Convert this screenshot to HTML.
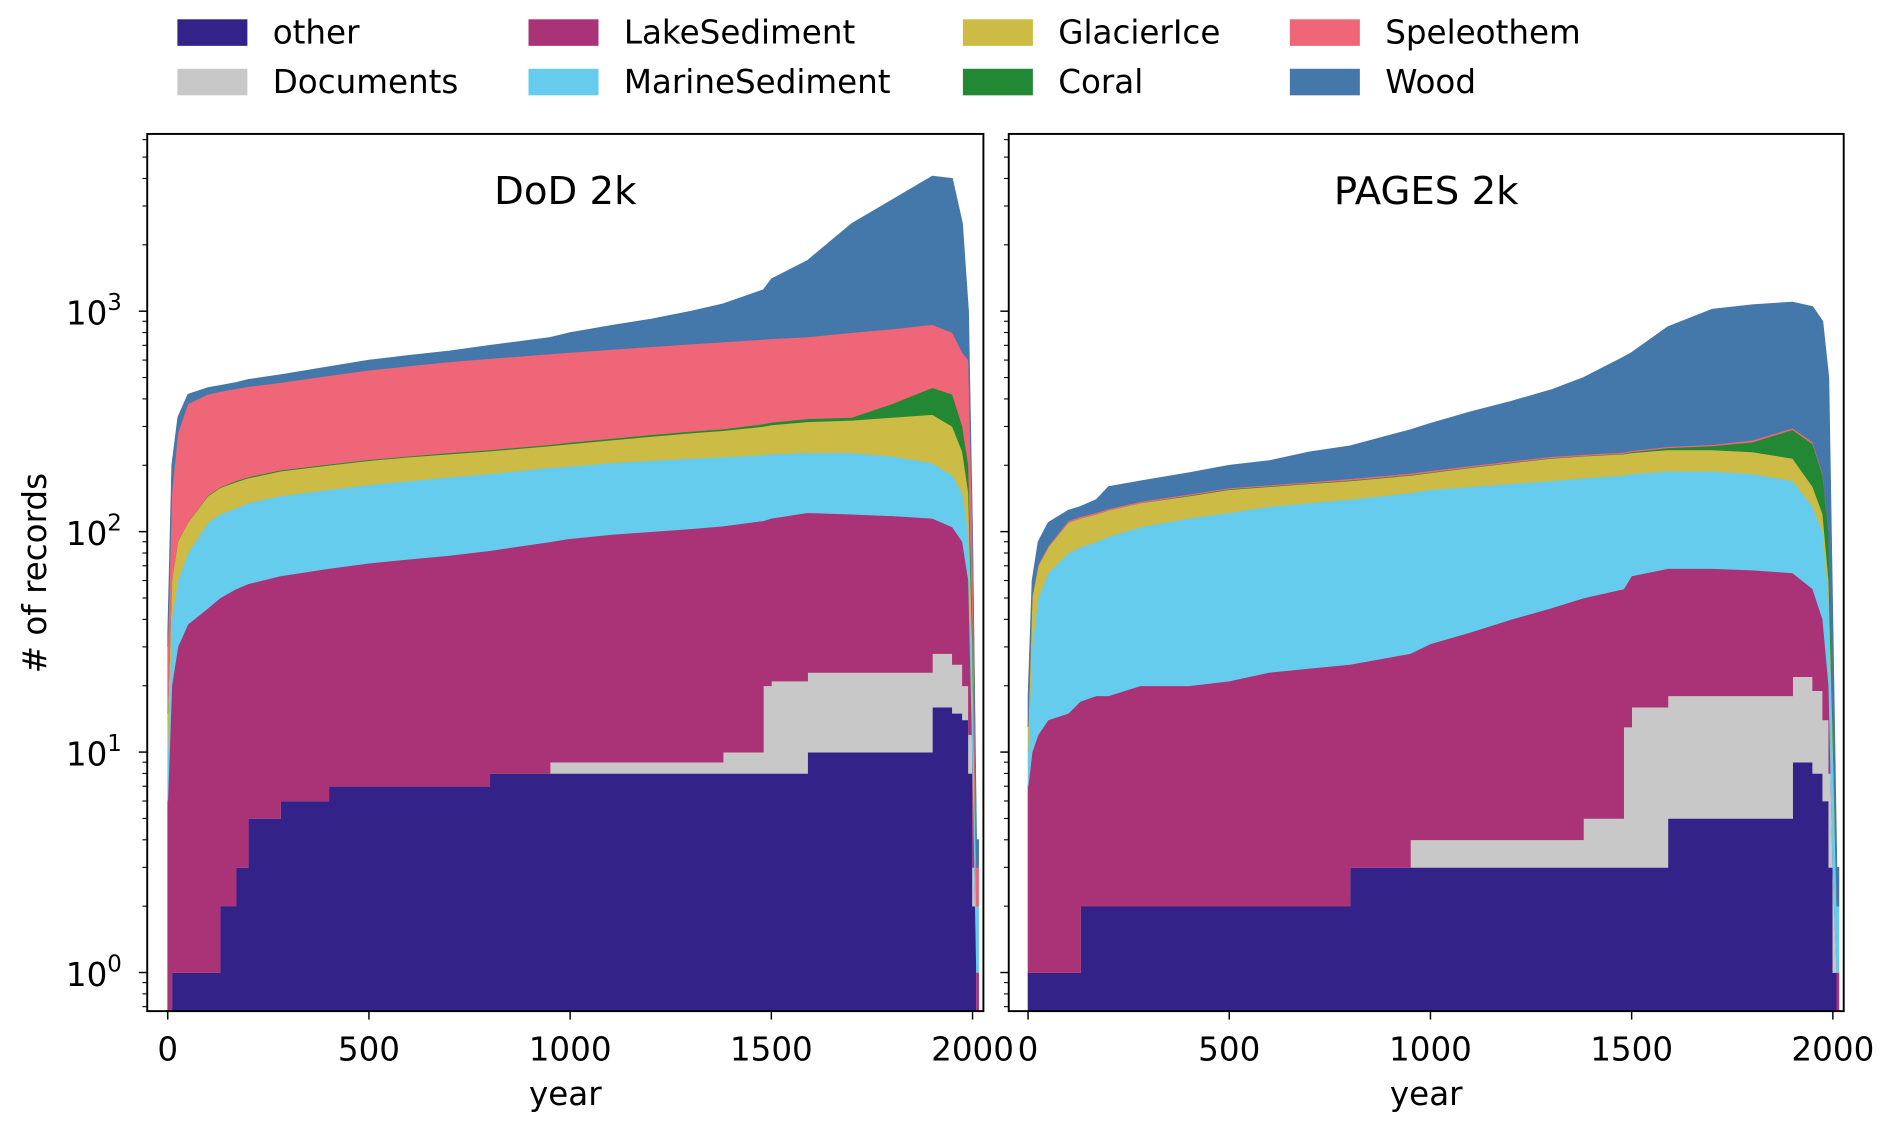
<!DOCTYPE html>
<html><head><meta charset="utf-8"><style>
html,body{margin:0;padding:0;background:#fff;width:1892px;height:1133px;overflow:hidden;}
svg{display:block;font-family:"DejaVu Sans","Liberation Sans",sans-serif;}
</style></head><body>
<svg id="chart" width="1892" height="1133" viewBox="0 0 1568 939" xmlns="http://www.w3.org/2000/svg"></svg>
<script>
const years=[0,10,25,50,100,130,170,200,280,400,500,600,700,800,950,1000,1100,1200,1300,1380,1480,1500,1590,1700,1800,1900,1950,1975,1990,2000,2010];
const seriesNames=["other","Documents","LakeSediment","MarineSediment","GlacierIce","Coral","Speleothem","Wood"];
const colors=["#332288","#c8c8c8","#aa3377","#66ccee","#ccbb44","#228833","#ee6677","#4477aa"];
const dodOther=[0,1,1,1,1,2,3,5,6,7,7,7,7,8,8,8,8,8,8,8,8,8,10,10,10,16,15,14,8,2,0];
const dodDocuments=[0,0,0,0,0,0,0,0,0,0,0,0,0,0,1,1,1,1,1,2,12,13,13,13,13,12,10,6,4,1,0];
const dodLake=[6,19,29,37,44,48,52,53,57,61,65,68,71,74,81,84,88,91,94,96,92,94,99,97,95,87,80,70,48,7,1];
const dodMarine=[4,20,30,42,65,70,73,77,82,87,91,95,99,101,105,105,108,110,112,112,111,110,106,108,102,90,75,60,40,10,1];
const dodGlacier=[5,20,30,30,35,38,40,40,43,45,47,48,48,49,50,52,55,60,65,69,77,80,87,92,110,135,120,80,50,10,0];
const dodCoral=[0,0,0,0,1,1,2,2,2,2,2,2,3,3,3,4,4,5,5,5,8,8,10,10,50,110,120,70,50,10,0];
const dodSpeleo=[15,90,190,270,274,273,275,278,285,308,328,345,362,375,392,396,406,415,425,433,437,437,440,470,450,420,380,350,400,60,1];
const dodWood=[5,50,50,40,30,28,30,35,40,50,60,65,70,90,120,150,190,230,290,355,505,650,935,1700,2370,3230,3200,1850,400,0,1];
const pgOther=[1,1,1,1,1,2,2,2,2,2,2,2,2,3,3,3,3,3,3,3,3,3,5,5,5,9,8,6,3,1,0];
const pgDocuments=[0,0,0,0,0,0,0,0,0,0,0,0,0,0,1,1,1,1,1,2,10,13,13,13,13,13,11,8,5,2,0];
const pgLake=[6,9,11,13,14,15,16,16,18,18,19,21,22,22,24,27,31,36,41,45,42,47,50,50,49,43,36,26,12,0,1];
const pgMarine=[3,20,38,51,65,68,72,77,85,95,101,107,111,115,122,124,125,125,125,125,125,120,120,120,116,105,75,60,30,7,1];
const pgGlacier=[3,20,20,20,30,30,30,30,30,30,33,30,30,30,30,30,35,40,45,45,45,45,47,47,47,45,30,20,10,2,0];
const pgCoral=[0,0,0,0,0,0,0,0,0,1,1,1,1,1,1,1,1,1,1,1,1,2,5,10,25,75,90,60,40,3,0];
const pgSpeleo=[0,1,1,1,2,2,2,2,2,2,2,2,2,3,3,3,3,3,3,3,3,3,3,3,5,5,5,3,2,0,0];
const pgWood=[5,9,19,24,13,13,18,33,33,37,42,47,62,71,106,121,151,181,221,276,391,417,607,772,810,805,795,717,398,25,1];
const xTicks=[0,500,1000,1500,2000];
const yTicks=[1,10,100,1000];

const NS="http://www.w3.org/2000/svg";
const svg=document.getElementById('chart');
function mk(tag,attrs,parent){const e=document.createElementNS(NS,tag);for(const k in attrs)e.setAttribute(k,attrs[k]);(parent||svg).appendChild(e);return e;}
const yTop=111,yBot=838;
function yScale(v){return v<=0?yBot+20:806-182.7*Math.log10(v);}

const panels=[
 {name:"dod",title:"DoD 2k",x0:122,x1:815,zero:139,data:[dodOther,dodDocuments,dodLake,dodMarine,dodGlacier,dodCoral,dodSpeleo,dodWood]},
 {name:"pages",title:"PAGES 2k",x0:836,x1:1528,zero:852,data:[pgOther,pgDocuments,pgLake,pgMarine,pgGlacier,pgCoral,pgSpeleo,pgWood]}
];
const endYear=2015;
function boundary(cum,step,xs){
  const pts=[];
  for(let i=0;i<years.length;i++){
    const xa=xs(years[i]),xb=xs(i+1<years.length?years[i+1]:endYear);
    if(step){pts.push([xa,yScale(cum[i])],[xb,yScale(cum[i])]);}
    else{pts.push([xa,yScale(cum[i])]); if(i===years.length-1)pts.push([xb,yScale(cum[i])]);}
  }
  return pts;
}
panels.forEach((p,pi)=>{
  const xs=y=>p.zero+(y/2000)*(806-139);
  const g=mk('g',{});
  
  
  const cp=mk('clipPath',{id:'clip'+pi},g);
  mk('rect',{x:p.x0,y:yTop,width:p.x1-p.x0,height:yBot-yTop},cp);
  const area=mk('g',{'clip-path':'url(#clip'+pi+')'},g);
  let cum=years.map(()=>0);
  let lowerPts=[[xs(0),yBot+20],[xs(endYear),yBot+20]];
  p.data.forEach((s,si)=>{
    cum=cum.map((c,i)=>c+s[i]);
    const topPts=boundary(cum,si<=1,xs);
    const all=topPts.concat(lowerPts.slice().reverse());
    const poly=mk('polygon',{points:all.map(q=>q[0].toFixed(2)+','+q[1].toFixed(2)).join(' '),fill:colors[si],stroke:colors[si],'stroke-width':0.6},area);
    
    
    lowerPts=topPts;
  });
  const fr=mk('rect',{x:p.x0,y:yTop,width:p.x1-p.x0,height:yBot-yTop,fill:'none',stroke:'#000','stroke-width':1.6},g);
  
  
  const t=mk('text',{x:(p.x0+p.x1)/2,y:169,'font-size':32,'text-anchor':'middle'},g);
  t.textContent=p.title;
  
  
  xTicks.forEach(v=>{
    const x=xs(v);
    mk('line',{x1:x,x2:x,y1:yBot,y2:yBot+7,stroke:'#000','stroke-width':1.2},g);
    const tl=mk('text',{x:x,y:879,'font-size':27,'text-anchor':'middle'},g);
    tl.textContent=v;
    
    
  });
  const xl=mk('text',{x:(p.x0+p.x1)/2,y:916,'font-size':27,'text-anchor':'middle'},g);
  xl.textContent='year';
  
  
  for(let d=-1;d<=3;d++)for(let m=1;m<10;m++){
    const v=m*Math.pow(10,d),y=yScale(v);
    if(y<yTop||y>yBot)continue;
    mk('line',{x1:p.x0,x2:p.x0-(m===1?7:4),y1:y,y2:y,stroke:'#000','stroke-width':m===1?1.2:0.9},g);
  }
  if(pi===0){
    yTicks.forEach(v=>{
      const y=yScale(v);
      const tl=mk('text',{x:101,y:y+11,'font-size':27,'text-anchor':'end'},g);
      tl.textContent='10';
      const sup=mk('tspan',{dy:-12,'font-size':19},tl);
      sup.textContent=String(Math.round(Math.log10(v)));
      
      
    });
  }
});
const yl=mk('text',{x:0,y:0,'font-size':27,'text-anchor':'middle',transform:'translate(38,475) rotate(-90)'});
yl.textContent='# of records';



const legX=[147,438,798,1069];
const legOrder=[[0,1],[2,3],[4,5],[6,7]];
legOrder.forEach((col,ci)=>{
  col.forEach((si,ri)=>{
    const y=ri===0?16:57;
    const lg=mk('g',{});
    
    
    mk('rect',{x:legX[ci],y:y,width:58,height:22,fill:colors[si]},lg);
    const tx=mk('text',{x:legX[ci]+79,y:y+20,'font-size':27},lg);
    tx.textContent=seriesNames[si];
  });
});
</script>
</body></html>
